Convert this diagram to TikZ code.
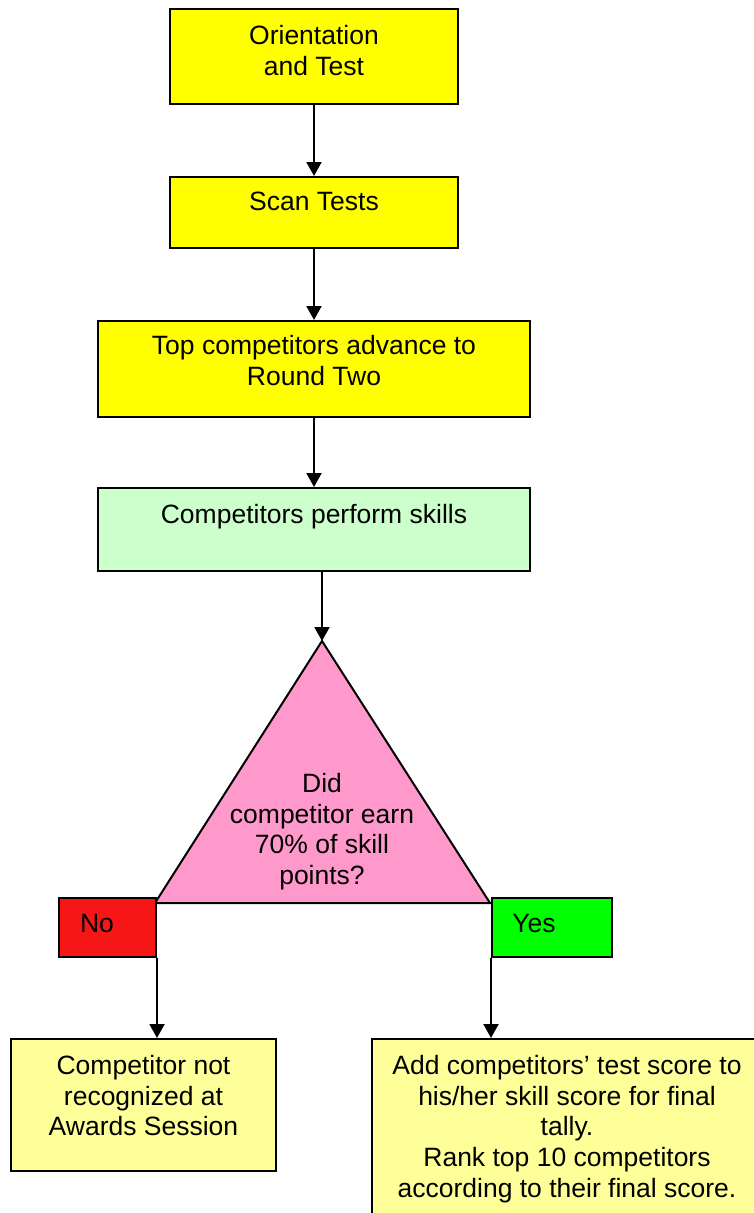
\documentclass[tikz,border=0pt]{standalone}
\usepackage{fontspec}
\setmainfont{Liberation Sans}
\usetikzlibrary{arrows.meta,calc}
\definecolor{cyel}{HTML}{FFFF00}
\definecolor{cgreenl}{HTML}{CCFFCC}
\definecolor{cpink}{HTML}{FF99CC}
\definecolor{cred}{HTML}{F61616}
\definecolor{cgreen}{HTML}{00FF00}
\definecolor{cyell}{HTML}{FFFF99}
\begin{document}
\begin{tikzpicture}[x=1pt,y=-1pt,
  box/.style={draw=black,line width=2pt,inner sep=0pt,anchor=north west},
  lbl/.style={anchor=north,inner sep=0pt,align=center,font=\fontsize{26.5}{30.7}\selectfont},
  arr/.style={draw=black,line width=2pt,-{Triangle[width=15pt,length=14pt]}}]
\useasboundingbox[fill=white] (0,0) rectangle (754,1213);
% boxes
\node[box,fill=cyel,minimum width=288pt,minimum height=95pt] (b1) at (169,8) {};
\node[lbl] (t1) at ($(b1.north)+(0,17)$) {Orientation\\and Test};
\node[box,fill=cyel,minimum width=288pt,minimum height=71pt] (b2) at (169,176) {};
\node[lbl] (t2) at ($(b2.north)+(0,16)$) {Scan Tests};
\node[box,fill=cyel,minimum width=432pt,minimum height=96pt] (b3) at (97,320) {};
\node[lbl] (t3) at ($(b3.north)+(0,15.5)$) {Top competitors advance to\\Round Two};
\node[box,fill=cgreenl,minimum width=432pt,minimum height=83pt] (b4) at (97,487) {};
\node[lbl] (t4) at ($(b4.north)+(0,17)$) {Competitors perform skills};
% triangle
\coordinate (apex) at (322,641);
\coordinate (tl) at (155,903);
\coordinate (tr) at (490,903);
\draw[line width=2pt,fill=cpink,line join=miter] (apex) -- (tr) -- (tl) -- cycle;
\node[lbl] (tq) at (322,773) {Did\\competitor earn\\70\% of skill\\points?};
% decisions
\node[box,fill=cred,minimum width=97pt,minimum height=59pt] (no) at (58,897) {};
\node[lbl] (tno) at (97,914) {No};
\node[box,fill=cgreen,minimum width=120pt,minimum height=59pt] (yes) at (491,897) {};
\node[lbl] (tyes) at (534,914) {Yes};
% results
\node[box,fill=cyell,minimum width=265pt,minimum height=132pt] (b8) at (10,1038) {};
\node[lbl] (t8) at ($(b8.north)+(0,17)$) {Competitor not\\recognized at\\Awards Session};
\node[box,fill=cyell,minimum width=392pt,minimum height=185pt] (b9) at (371,1038) {};
\node[lbl] (t9) at (567,1055) {Add competitors’ test score to\\his/her skill score for final\\tally.\\Rank top 10 competitors\\according to their final score.};
% connectors
\draw[arr] (b1.south) -- (b2.north);
\draw[arr] (b2.south) -- (b3.north);
\draw[arr] (b3.south) -- (b4.north);
\draw[arr] (apex |- b4.south) -- (apex);
\draw[arr] (no.south east) -- (no.south east |- b8.north);
\draw[arr] (yes.south west) -- (yes.south west |- b9.north);
\end{tikzpicture}
\end{document}
